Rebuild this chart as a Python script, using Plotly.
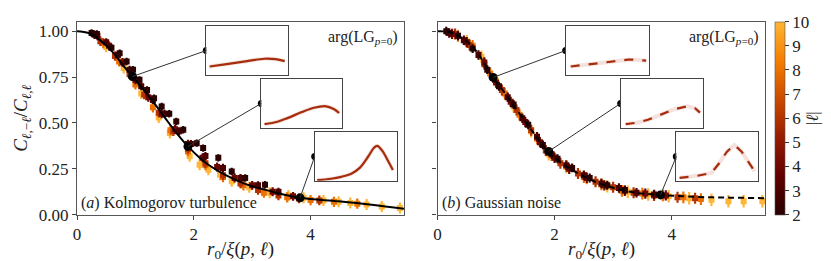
import plotly.graph_objects as go
from plotly.colors import sample_colorscale

W, H = 831, 261

# ---------------- data ----------------
ells = [2, 3, 4, 6, 8, 10]

# (a) Kolmogorov turbulence measured points, one list per |l|
K_x = [
    [0.25, 0.34, 0.59, 0.73, 0.85, 0.96, 1.07, 1.2, 1.32, 1.45, 1.58, 1.70, 1.82, 2.05, 2.16, 2.42, 2.65, 2.88, 3.22],
    [0.3, 0.5, 0.7, 0.9, 1.1, 1.3, 1.5, 1.75, 1.95, 2.2, 2.5, 2.8, 3.1, 3.45],
    [0.35, 0.55, 0.78, 1.0, 1.22, 1.45, 1.68, 1.9, 2.15, 2.4, 2.7, 3.0, 3.35, 3.7],
    [0.4, 0.65, 0.9, 1.15, 1.4, 1.65, 1.9, 2.2, 2.5, 2.8, 3.1, 3.45, 3.8, 4.15],
    [0.45, 0.72, 1.0, 1.3, 1.6, 1.9, 2.2, 2.5, 2.85, 3.2, 3.6, 4.0, 4.4, 4.8],
    [0.5, 0.8, 1.1, 1.4, 1.59, 1.93, 2.1, 2.25, 2.45, 2.65, 2.95, 3.3, 3.62, 3.88, 4.22, 4.48, 4.68, 4.96, 5.22, 5.53],
]
K_y = [
    [0.99, 0.985, 0.91, 0.88, 0.835, 0.79, 0.735, 0.68, 0.635, 0.59, 0.55, 0.508, 0.463, 0.39, 0.363, 0.31, 0.236, 0.2, 0.163],
    [0.98, 0.94, 0.87, 0.79, 0.70, 0.625, 0.55, 0.455, 0.385, 0.32, 0.255, 0.2, 0.16, 0.125],
    [0.975, 0.92, 0.83, 0.735, 0.64, 0.55, 0.465, 0.385, 0.31, 0.26, 0.2, 0.16, 0.125, 0.1],
    [0.945, 0.865, 0.765, 0.655, 0.555, 0.455, 0.36, 0.28, 0.215, 0.17, 0.135, 0.105, 0.088, 0.078],
    [0.935, 0.835, 0.71, 0.585, 0.46, 0.345, 0.27, 0.205, 0.16, 0.12, 0.095, 0.08, 0.07, 0.06],
    [0.915, 0.8, 0.66, 0.53, 0.445, 0.318, 0.272, 0.245, 0.218, 0.182, 0.15, 0.12, 0.105, 0.092, 0.078, 0.07, 0.064, 0.055, 0.045, 0.036],
]
K_err = [0.02, 0.022, 0.024, 0.026, 0.028, 0.03]

# (b) Gaussian noise measured points
G_x = [
    [0.15, 0.35, 0.6, 0.85, 1.05, 1.3, 1.55, 1.8, 2.05, 2.3, 2.6, 2.9, 3.2],
    [0.2, 0.45, 0.7, 0.95, 1.2, 1.45, 1.7, 1.95, 2.2, 2.5, 2.8, 3.1, 3.4, 3.7],
    [0.25, 0.5, 0.8, 1.0, 1.25, 1.5, 1.75, 2.0, 2.25, 2.55, 2.85, 3.2, 3.55, 3.9],
    [0.3, 0.55, 0.8, 1.1, 1.35, 1.6, 1.85, 2.1, 2.4, 2.7, 3.0, 3.35, 3.7, 4.1, 4.4],
    [0.35, 0.6, 0.9, 1.15, 1.4, 1.7, 1.95, 2.2, 2.5, 2.8, 3.15, 3.5, 3.85, 4.2, 4.5],
    [0.5, 0.75, 1.0, 1.3, 1.6, 1.9, 2.2, 2.55, 2.9, 3.25, 3.6, 3.95, 4.3, 4.68, 4.97, 5.23, 5.55],
]
G_y = [
    [1.0, 0.975, 0.905, 0.79, 0.70, 0.60, 0.49, 0.38, 0.305, 0.255, 0.2, 0.16, 0.135],
    [0.99, 0.95, 0.87, 0.745, 0.64, 0.525, 0.425, 0.33, 0.27, 0.215, 0.17, 0.145, 0.12, 0.11],
    [0.985, 0.94, 0.83, 0.72, 0.615, 0.505, 0.395, 0.31, 0.25, 0.2, 0.16, 0.13, 0.115, 0.105],
    [0.985, 0.925, 0.82, 0.68, 0.57, 0.46, 0.35, 0.28, 0.225, 0.18, 0.15, 0.12, 0.105, 0.095, 0.09],
    [0.975, 0.92, 0.77, 0.66, 0.545, 0.415, 0.325, 0.265, 0.205, 0.165, 0.13, 0.115, 0.105, 0.095, 0.085],
    [0.945, 0.86, 0.73, 0.59, 0.455, 0.33, 0.26, 0.2, 0.155, 0.125, 0.11, 0.1, 0.09, 0.082, 0.073, 0.073, 0.073],
]
G_err = [0.024, 0.026, 0.028, 0.03, 0.032, 0.034]

# theory curves
K_curve_x = [0, 0.2, 0.4, 0.6, 0.8, 0.95, 1.1, 1.27, 1.4, 1.56, 1.73, 1.9, 2.1, 2.25, 2.53, 2.88, 3.33, 3.82, 4.48, 5.05, 5.6]
K_curve_y = [1.0, 0.99, 0.95, 0.89, 0.81, 0.753, 0.695, 0.63, 0.575, 0.505, 0.435, 0.372, 0.31, 0.272, 0.218, 0.168, 0.127, 0.092, 0.073, 0.054, 0.032]
G_curve_x = [0, 0.26, 0.57, 0.75, 0.94, 1.1, 1.31, 1.54, 1.7, 1.88, 2.1, 2.34, 2.62, 2.91, 3.37, 3.81, 4.41, 5.0, 5.6]
G_curve_y = [1.0, 0.99, 0.925, 0.85, 0.748, 0.685, 0.59, 0.49, 0.42, 0.345, 0.285, 0.236, 0.19, 0.155, 0.12, 0.108, 0.097, 0.093, 0.09]

# highlighted points (linked to insets)
K_mark_x = [0.95, 1.9, 3.82]
K_mark_y = [0.753, 0.372, 0.092]
G_mark_x = [0.95, 1.9, 3.81]
G_mark_y = [0.748, 0.345, 0.108]

# inset phase profiles (normalised units)
K_in_u = [
    [0.04, 0.25, 0.5, 0.71, 0.85, 0.96],
    [0.04, 0.2, 0.33, 0.5, 0.65, 0.8, 0.9, 0.96],
    [0.03, 0.2, 0.32, 0.45, 0.55, 0.65, 0.72, 0.76, 0.82, 0.9, 0.95],
]
K_in_v = [
    [0.17, 0.22, 0.28, 0.33, 0.32, 0.28],
    [0.07, 0.12, 0.2, 0.32, 0.41, 0.44, 0.38, 0.30],
    [0.01, 0.04, 0.08, 0.15, 0.27, 0.5, 0.68, 0.72, 0.62, 0.38, 0.22],
]
G_in_u = [
    [0.06, 0.3, 0.55, 0.75, 0.84, 0.97],
    [0.06, 0.2, 0.33, 0.5, 0.65, 0.81, 0.9, 0.96],
    [0.04, 0.25, 0.43, 0.52, 0.62, 0.71, 0.8, 0.96],
]
G_in_v = [
    [0.17, 0.22, 0.28, 0.31, 0.31, 0.29],
    [0.07, 0.10, 0.16, 0.28, 0.38, 0.44, 0.40, 0.31],
    [0.06, 0.10, 0.16, 0.35, 0.60, 0.74, 0.60, 0.19],
]

x_ticks = [0, 2, 4]
y_ticks = [0, 0.25, 0.5, 0.75, 1.0]
y_ticklabels = ["0.00", "0.25", "0.50", "0.75", "1.00"]
cbar_ticks = [2, 3, 4, 5, 6, 7, 8, 9, 10]

# ---------------- style / layout ----------------
FONT = "Liberation Serif"
cscale = [[0.0, "#2a0000"], [0.2, "#600000"], [0.4, "#971c00"],
          [0.6, "#cc4a00"], [0.8, "#f57e00"], [1.0, "#ffb535"]]
XR = [0, 5.6]
YR = [0, 1.05]

def px_x(p):
    return p / W

def px_y(p):
    return (H - p) / H

dom_left = [px_x(69), px_x(396)]
dom_right = [px_x(429.5), px_x(757.3)]
dom_y = [px_y(206.7), px_y(14)]

# inset boxes in pixels: (x0, x1, ytop, ybottom)
K_boxes = [(198.3, 280, 18.3, 66.7), (253.3, 334.3, 71.3, 119.5), (306.7, 389, 124.3, 172.7)]
G_boxes = [(557.7, 640.7, 18.3, 66.7), (612.7, 695.3, 71.3, 119.5), (668.3, 750, 124.3, 172.7)]

fig = go.Figure()

def lcolor(l):
    return sample_colorscale(cscale, [(l - 2) / 8])[0]

def add_points(xs, ys, errs, xa, ya):
    for i in range(len(ells) - 1, -1, -1):
        c = lcolor(ells[i])
        fig.add_trace(go.Scatter(
            x=xs[i], y=ys[i], mode="markers", xaxis=xa, yaxis=ya,
            marker=dict(symbol="square", size=6, color=c, line=dict(width=0)),
            error_y=dict(type="constant", value=errs[i], color=c, thickness=2.2, width=0),
            showlegend=False, hoverinfo="skip"))

add_points(K_x, K_y, K_err, "x", "y")
add_points(G_x, G_y, G_err, "x2", "y2")

fig.add_trace(go.Scatter(x=K_curve_x, y=K_curve_y, mode="lines", xaxis="x", yaxis="y",
                         line=dict(color="black", width=2, shape="spline"), showlegend=False))
fig.add_trace(go.Scatter(x=G_curve_x, y=G_curve_y, mode="lines", xaxis="x2", yaxis="y2",
                         line=dict(color="black", width=2, dash="6px,4px", shape="spline"), showlegend=False))

def connectors(mx, my, boxes, dom_x, xa, ya, xref, yref):
    ax, ay = [], []
    for (x0, x1, yt, yb) in boxes:
        pxx = x0
        pyy = (yt + yb) / 2
        fx = (px_x(pxx) - dom_x[0]) / (dom_x[1] - dom_x[0])
        fy = (px_y(pyy) - dom_y[0]) / (dom_y[1] - dom_y[0])
        ax.append(XR[0] + fx * (XR[1] - XR[0]))
        ay.append(YR[0] + fy * (YR[1] - YR[0]))
    for i in range(len(mx)):
        fig.add_shape(type="line", xref=xref, yref=yref, x0=mx[i], y0=my[i], x1=ax[i], y1=ay[i],
                      line=dict(color="#333", width=1))
    fig.add_trace(go.Scatter(x=ax, y=ay, mode="markers", xaxis=xa, yaxis=ya, cliponaxis=False,
                             marker=dict(color="black", size=7), showlegend=False))
    fig.add_trace(go.Scatter(x=mx, y=my, mode="markers", xaxis=xa, yaxis=ya, cliponaxis=False,
                             marker=dict(color="black", size=9), showlegend=False))

connectors(K_mark_x, K_mark_y, K_boxes, dom_left, "x", "y", "x", "y")
connectors(G_mark_x, G_mark_y, G_boxes, dom_right, "x2", "y2", "x2", "y2")

# colorbar carrier
fig.add_trace(go.Scatter(
    x=[None], y=[None], mode="markers", xaxis="x", yaxis="y", showlegend=False,
    marker=dict(color=[2], cmin=2, cmax=10, colorscale=cscale, showscale=True,
                colorbar=dict(thickness=10, len=(206.7 - 14) / H, lenmode="fraction",
                              y=dom_y[0], yanchor="bottom", x=px_x(766.7), xanchor="left",
                              xpad=0, ypad=0, outlinewidth=0.6, outlinecolor="#555",
                              tickvals=cbar_ticks, ticks="outside", ticklen=4, tickcolor="#333",
                              tickfont=dict(family=FONT, size=17, color="#222"),
                              title=dict(text="|<i>ℓ</i>|", side="right",
                                         font=dict(family=FONT, size=17, color="#222"))))))

axis_common = dict(showline=True, mirror=True, linecolor="#555", linewidth=1.2,
                   showgrid=False, zeroline=False, ticks="outside", ticklen=4,
                   tickcolor="#444", automargin=False,
                   tickfont=dict(family=FONT, size=17, color="#222"))

layout = dict(
    width=W, height=H, margin=dict(l=0, r=0, t=0, b=0),
    paper_bgcolor="white", plot_bgcolor="white", showlegend=False,
    xaxis=dict(domain=dom_left, range=XR, tickvals=x_ticks, anchor="y", **axis_common),
    yaxis=dict(domain=dom_y, range=YR, tickvals=y_ticks, ticktext=y_ticklabels, anchor="x",
               title=dict(text="<i>C</i><sub><i>ℓ</i>,−<i>ℓ</i></sub>/<i>C</i><sub><i>ℓ</i>,<i>ℓ</i></sub>",
                          standoff=6, font=dict(family=FONT, size=19, color="#222")), **axis_common),
    xaxis2=dict(domain=dom_right, range=XR, tickvals=x_ticks, anchor="y2", **axis_common),
    yaxis2=dict(domain=dom_y, range=YR, tickvals=y_ticks, showticklabels=False, anchor="x2",
                **axis_common),
)

inset_axis = dict(showline=True, mirror=True, linecolor="#444", linewidth=1.2, showgrid=False,
                  zeroline=False, showticklabels=False, ticks="", range=[0, 1], fixedrange=True)

k = 3
for boxes, us, vs, dash in [(K_boxes, K_in_u, K_in_v, "solid"), (G_boxes, G_in_u, G_in_v, "dash")]:
    for j, (x0, x1, yt, yb) in enumerate(boxes):
        layout["xaxis%d" % k] = dict(domain=[px_x(x0), px_x(x1)], anchor="y%d" % k, **inset_axis)
        layout["yaxis%d" % k] = dict(domain=[px_y(yb), px_y(yt)], anchor="x%d" % k, **inset_axis)
        shp = "spline" if dash == "solid" else "linear"
        fig.add_trace(go.Scatter(x=us[j], y=vs[j], mode="lines", xaxis="x%d" % k, yaxis="y%d" % k,
                                 line=dict(color="rgba(200,90,70,0.18)", width=4, shape=shp),
                                 showlegend=False))
        fig.add_trace(go.Scatter(x=us[j], y=vs[j], mode="lines", xaxis="x%d" % k, yaxis="y%d" % k,
                                 line=dict(color="#a52d0c", width=2.2, dash=dash, shape=shp),
                                 showlegend=False))
        k += 1

fig.update_layout(**layout)

ann_font = dict(family=FONT, size=16, color="#222")
xtitle = "<i>r</i><sub>0</sub>/<i>ξ</i>(<i>p</i>, <i>ℓ</i>)"
for dom in (dom_left, dom_right):
    fig.add_annotation(text=xtitle, xref="paper", yref="paper",
                       x=(dom[0] + dom[1]) / 2, y=px_y(242), xanchor="center", yanchor="middle",
                       showarrow=False, font=dict(family=FONT, size=19, color="#222"))
fig.add_annotation(text="arg(LG<sub><i>p</i>=0</sub>)", xref="paper", yref="paper",
                   x=px_x(392), y=px_y(30), xanchor="right", yanchor="middle", showarrow=False, font=ann_font)
fig.add_annotation(text="arg(LG<sub><i>p</i>=0</sub>)", xref="paper", yref="paper",
                   x=px_x(753), y=px_y(30), xanchor="right", yanchor="middle", showarrow=False, font=ann_font)
fig.add_annotation(text="(<i>a</i>) Kolmogorov turbulence", xref="paper", yref="paper",
                   x=px_x(71), y=px_y(195), xanchor="left", yanchor="middle", showarrow=False, font=ann_font)
fig.add_annotation(text="(<i>b</i>) Gaussian noise", xref="paper", yref="paper",
                   x=px_x(432), y=px_y(195), xanchor="left", yanchor="middle", showarrow=False, font=ann_font)

fig.write_html("out.html")
